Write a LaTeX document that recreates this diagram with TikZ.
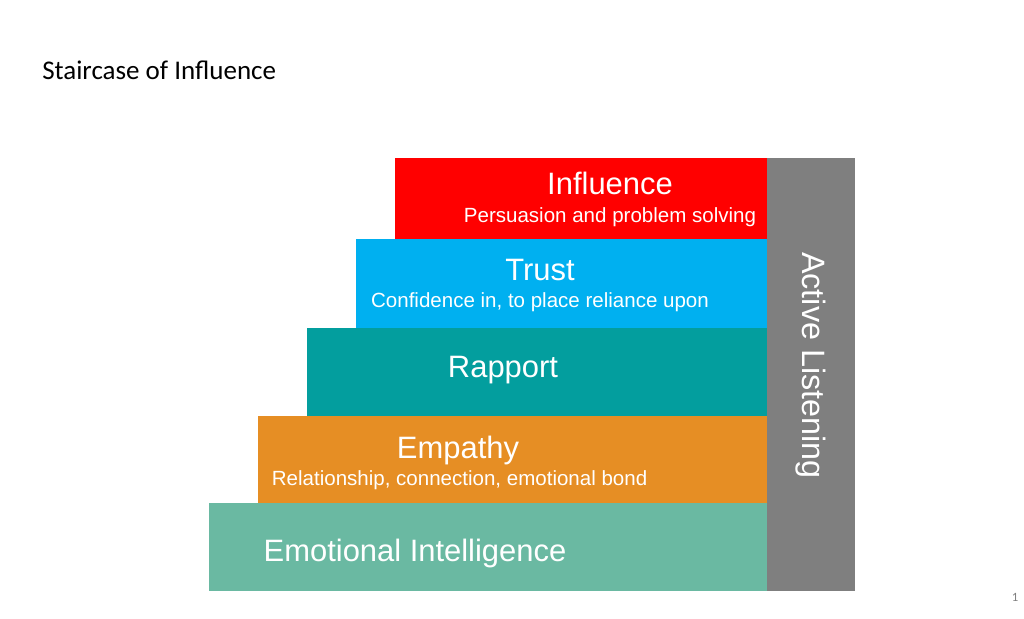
\documentclass[tikz,border=0pt]{standalone}
\usepackage{fontspec}
\setmainfont{Liberation Sans}
\newfontfamily\slidefont{Carlito}
\usepackage{xcolor}
\usepackage{tikz}
\usetikzlibrary{positioning}
\definecolor{stairred}{HTML}{FF0000}
\definecolor{stairblue}{HTML}{00B0F0}
\definecolor{stairteal}{HTML}{039E9E}
\definecolor{stairorange}{HTML}{E68E24}
\definecolor{stairgreen}{HTML}{6AB9A2}
\definecolor{stairgray}{HTML}{7F7F7F}
\tikzstyle{stairbar} = [draw=none, rectangle, inner sep=0pt, anchor=south west]
\tikzstyle{steptitle} = [text=white, anchor=base, inner sep=0pt, font=\fontsize{22}{26}\selectfont]
\tikzstyle{stepnote} = [text=white, anchor=base, inner sep=0pt, font=\fontsize{14.6}{17}\selectfont]

\begin{document}
\begin{tikzpicture}
\useasboundingbox (0,0) rectangle (25.6,15.475);
\node[anchor=base west, inner sep=0pt, font=\slidefont\fontsize{19.2}{23}\selectfont] at (1.05,13.475) (title) {Staircase of Influence};
\node[stairbar, fill=stairgreen, minimum width=13.95cm, minimum height=2.2cm] at (5.225,0.7) (emo) {};
\node[stairbar, fill=stairorange, minimum width=12.725cm, minimum height=2.175cm] at (6.45,2.9) (emp) {};
\node[stairbar, fill=stairteal, minimum width=11.5cm, minimum height=2.2cm] at (7.675,5.075) (rap) {};
\node[stairbar, fill=stairblue, minimum width=10.275cm, minimum height=2.225cm] at (8.9,7.275) (tru) {};
\node[stairbar, fill=stairred, minimum width=9.3cm, minimum height=2.025cm] at (9.875,9.5) (inf) {};
\node[stairbar, fill=stairgray, minimum width=2.2cm, minimum height=10.825cm] at (19.175,0.7) (lis) {};
\node[steptitle] at (15.25,10.6) (infT) {Influence};
\node[stepnote] at (15.25,9.91) (infN) {Persuasion and problem solving};
\node[steptitle] at (13.5,8.458) (truT) {Trust};
\node[stepnote] at (13.5,7.783) (truN) {Confidence in, to place reliance upon};
\node[steptitle] at (12.575,6.025) (rapT) {Rapport};
\node[steptitle] at (11.45,4.0) (empT) {Empathy};
\node[stepnote] at (11.49,3.325) (empN) {Relationship, connection, emotional bond};
\node[steptitle] at (10.375,1.425) (emoT) {Emotional Intelligence};
\node[text=white, rotate=-90, inner sep=0pt, font=\fontsize{23}{27}\selectfont] at ([yshift=0.22cm]lis.center) (lisT) {Active Listening};
\node[text=stairgray, inner sep=0pt, font=\slidefont\fontsize{9}{10}\selectfont] at (25.375,0.55) (page) {1};
\end{tikzpicture}
\end{document}
